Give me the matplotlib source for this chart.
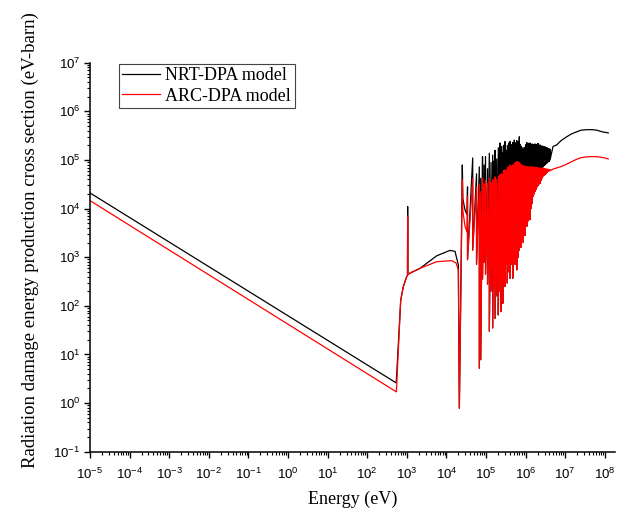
import numpy as np
import matplotlib
matplotlib.use("Agg")
import matplotlib.pyplot as plt
from matplotlib.ticker import LogLocator, FuncFormatter, NullFormatter

# ---- data (energy in eV, values in eV-barn) ----
# low-energy part (1/v region, first resonances)
nrt_low_E = [1e-5, 540, 701, 816, 994, 1.04e3, 1.05e3, 1.06e3, 1.2e3, 2.15e3,
             5.69e3, 1.23e4, 1.65e4, 2.0e4, 2.12e4, 2.52e4, 2.6e4, 2.95e4, 3.3e4]
nrt_low = [2.1e4, 2.6, 130, 250, 400, 420, 1.1e4, 440, 470, 590,
           1.07e3, 1.38e3, 1.32e3, 690, 0.78, 7.9e4, 1.6e4, 9.3e3, 7.5e3]

arc_low_E = [1e-5, 545, 701, 816, 994, 1.04e3, 1.05e3, 1.06e3, 1.2e3, 2.15e3,
             5.69e3, 1.36e4, 1.75e4, 2.0e4, 2.12e4, 2.52e4, 2.6e4, 2.95e4, 3.3e4]
arc_low = [1.46e4, 1.7, 130, 250, 400, 420, 7.0e3, 440, 470, 590,
           810, 850, 760, 550, 0.78, 3.9e4, 9.0e3, 4.3e3, 3.3e3]

# resolved resonance forest: energy, peaks and dips of each curve
res_E = [3.41e4, 4.61e4, 5.76e4, 6.77e4, 7.35e4, 8.16e4, 8.90e4, 9.71e4,
         1.091e5, 1.211e5, 1.337e5, 1.476e5, 1.592e5, 1.688e5, 1.863e5, 2.045e5,
         2.168e5, 2.258e5, 2.351e5, 2.463e5, 2.641e5, 2.767e5, 2.899e5, 3.019e5,
         3.2e5, 3.451e5, 3.594e5, 3.765e5, 4.037e5, 4.278e5, 4.535e5, 4.723e5,
         4.947e5, 5.183e5, 5.462e5, 5.722e5, 5.96e5, 6.243e5, 6.54e5, 6.93e5,
         7.302e5, 7.65e5, 7.968e5, 8.347e5, 8.746e5, 9.218e5, 9.657e5, 1.0235e6,
         1.066e6, 1.117e6, 1.17e6, 1.233e6, 1.292e6, 1.369e6, 1.451e6, 1.538e6,
         1.63e6, 1.728e6, 1.831e6, 1.941e6, 2.057e6, 2.18e6, 2.311e6, 2.449e6,
         2.595e6, 2.751e6, 2.915e6, 3.09e6, 3.275e6, 3.471e6, 3.679e6, 3.899e6,
         4.132e6]
nrt_peak = [2.8e4, 1.1e5, 5.2e4, 7.2e4, 4.2e4, 1.17e5, 7.9e4, 1.17e5,
            6.6e4, 1.38e5, 8.9e4, 1.26e5, 9.5e4, 1.58e5, 1.05e5, 1.78e5,
            1.26e5, 2.24e5, 1.32e5, 1.9e5, 1.41e5, 2.0e5, 1.66e5, 2.4e5,
            1.58e5, 2.0e5, 1.66e5, 2.24e5, 2.4e5, 1.78e5, 2.09e5, 2.29e5,
            1.9e5, 2.57e5, 2.0e5, 2.29e5, 2.51e5, 2.0e5, 2.4e5, 3.0e5,
            2.09e5, 1.9e5, 1.82e5, 1.66e5, 1.58e5, 1.82e5, 1.74e5, 2.09e5,
            2.29e5, 2.0e5, 2.19e5, 2.0e5, 2.24e5, 2.0e5, 2.14e5, 2.09e5,
            2.0e5, 2.14e5, 2.0e5, 2.09e5, 2.19e5, 2.0e5, 2.04e5, 1.9e5,
            1.95e5, 1.9e5, 1.86e5, 1.86e5, 1.82e5, 1.78e5, 1.74e5, 1.7e5,
            1.66e5]
nrt_dip = [890, 1.4e3, 710, 5.2, 7.8, 355, 790, 450,
           280, 30, 200, 35, 250, 55, 160, 65,
           220, 200, 76, 280, 112, 500, 355, 250,
           710, 295, 790, 500, 370, 710, 890, 370,
           1.0e3, 790, 710, 1.12e3, 550, 1.26e3, 1.0e3, 1.4e3,
           1.8e3, 1.6e3, 2.3e3, 2.8e3, 2.0e3, 3.2e3, 2.8e3, 5.0e3,
           4.3e3, 7.1e3, 5.6e3, 7.9e3, 5.9e3, 1.0e4, 1.26e4, 1.78e4,
           2.0e4, 2.24e4, 2.5e4, 2.8e4, 3.0e4, 3.2e4, 3.3e4, 3.8e4,
           5.5e4, 7.2e4, 7.6e4, 7.9e4, 8.3e4, 8.7e4, 9.1e4, 9.3e4,
           1.0e5]
arc_peak = [1.78e4, 4.2e4, 2.8e4, 3.2e4, 2.24e4, 4.2e4, 3.2e4, 3.8e4,
            3.3e4, 4.2e4, 3.5e4, 4.0e4, 3.8e4, 4.5e4, 4.0e4, 4.6e4,
            4.2e4, 5.0e4, 4.2e4, 5.2e4, 5.0e4, 6.0e4, 5.6e4, 6.3e4,
            6.0e4, 7.1e4, 6.6e4, 7.2e4, 7.9e4, 7.1e4, 7.6e4, 7.9e4,
            7.6e4, 8.3e4, 8.9e4, 8.7e4, 9.3e4, 8.9e4, 9.1e4, 8.9e4,
            8.3e4, 7.9e4, 7.9e4, 7.6e4, 7.6e4, 7.4e4, 7.4e4, 7.2e4,
            7.2e4, 7.2e4, 7.1e4, 7.2e4, 7.2e4, 7.1e4, 7.2e4, 7.2e4,
            7.1e4, 7.1e4, 6.9e4, 6.9e4, 6.9e4, 6.8e4, 6.8e4, 6.8e4,
            6.8e4, 6.8e4, 6.6e4, 6.6e4, 6.5e4, 6.5e4, 6.5e4, 6.3e4,
            6.3e4]
arc_dip = [890, 1.4e3, 710, 5.2, 7.8, 355, 790, 450,
           280, 30, 200, 35, 250, 55, 160, 65,
           220, 200, 76, 280, 112, 500, 355, 250,
           710, 295, 790, 500, 370, 710, 890, 370,
           1.0e3, 790, 710, 1.12e3, 550, 1.26e3, 1.0e3, 1.4e3,
           1.8e3, 1.6e3, 2.3e3, 2.8e3, 2.0e3, 3.2e3, 2.8e3, 5.0e3,
           4.3e3, 7.1e3, 5.6e3, 7.9e3, 5.9e3, 1.0e4, 1.26e4, 1.78e4,
           2.0e4, 2.24e4, 2.5e4, 2.8e4, 3.0e4, 3.2e4, 3.3e4, 3.8e4,
           4.2e4, 4.6e4, 4.8e4, 5.0e4, 5.2e4, 5.5e4, 5.8e4, 5.9e4,
           6.0e4]

# smooth high-energy part
nrt_high_E = [4.92e6, 6.1e6, 7.83e6, 1.09e7, 1.4e7, 1.95e7, 2.51e7, 3.49e7,
              4.75e7, 6.24e7, 8.5e7, 1.22e8]
nrt_high = [1.9e5, 2.04e5, 2.5e5, 3.0e5, 3.4e5, 3.8e5, 4.1e5, 4.2e5,
            4.2e5, 4.1e5, 3.8e5, 3.6e5]
arc_high_E = [4.92e6, 7.39e6, 9.9e6, 1.32e7, 1.77e7, 2.36e7, 3.16e7, 4.23e7,
              6.24e7, 9.0e7, 1.22e8]
arc_high = [6.5e4, 7.2e4, 7.9e4, 8.9e4, 1.0e5, 1.1e5, 1.15e5, 1.17e5,
            1.17e5, 1.12e5, 1.05e5]


def build_curve(low_E, low, peaks, dips, high_E, high):
    # resonances: line goes up to the peak and down to the dip at each energy
    zz_E = np.repeat(res_E, 2)
    zz_v = np.column_stack([peaks, dips]).ravel()
    E = np.concatenate([low_E, zz_E, high_E])
    v = np.concatenate([low, zz_v, high])
    return E, v


nrt_E, nrt_v = build_curve(nrt_low_E, nrt_low, nrt_peak, nrt_dip, nrt_high_E, nrt_high)
arc_E, arc_v = build_curve(arc_low_E, arc_low, arc_peak, arc_dip, arc_high_E, arc_high)

plt.rcParams["font.family"] = ["Liberation Serif", "DejaVu Serif"]
plt.rcParams["mathtext.default"] = "regular"

fig = plt.figure(figsize=(6.24, 5.15), dpi=100)
ax = fig.add_axes([0.1442, 0.1229, 0.8413, 0.7553])

ax.plot(nrt_E, nrt_v, color="black", lw=0.9, label="NRT-DPA model")
ax.plot(arc_E, arc_v, color="#ff0000", lw=0.9, label="ARC-DPA model")

ax.set_xscale("log")
ax.set_yscale("log")
ax.set_xlim(1e-5, 1.8e8)
ax.set_ylim(1e-1, 1e7)

ax.xaxis.set_major_locator(LogLocator(base=10, numticks=30))
ax.xaxis.set_minor_locator(LogLocator(base=10, subs=np.arange(2, 10), numticks=30))
ax.yaxis.set_major_locator(LogLocator(base=10, numticks=30))
ax.yaxis.set_minor_locator(LogLocator(base=10, subs=np.arange(2, 10), numticks=30))
fmt = FuncFormatter(lambda val, pos: r"$\mathregular{10^{%d}}$" % round(np.log10(val)))
ax.xaxis.set_major_formatter(fmt)
ax.yaxis.set_major_formatter(fmt)
ax.xaxis.set_minor_formatter(NullFormatter())
ax.yaxis.set_minor_formatter(NullFormatter())

ax.tick_params(which="major", direction="out", length=4, width=1, labelsize=9.5)
ax.tick_params(which="minor", direction="out", length=2.2, width=0.8)
ax.tick_params(axis="x", which="major", pad=7)
ax.tick_params(axis="y", which="major", pad=3)
for lab in ax.get_xticklabels() + ax.get_yticklabels():
    lab.set_fontfamily("Liberation Sans")

for side in ["top", "right"]:
    ax.spines[side].set_visible(False)
for side in ["left", "bottom"]:
    ax.spines[side].set_linewidth(1.1)

ax.set_xlabel("Energy (eV)", fontsize=13, labelpad=6)
ax.set_ylabel("Radiation damage energy production cross section (eV-barn)", fontsize=13.5)
ax.yaxis.set_label_coords(-0.097, 0.544)

leg = ax.legend(loc="upper left", bbox_to_anchor=(0.055, 0.998), borderaxespad=0,
                fancybox=False, framealpha=1, edgecolor="#444444", fontsize=13,
                handlelength=2.1, handletextpad=0.28, labelspacing=0.2,
                borderpad=0.2)
leg.get_frame().set_linewidth(0.8)

fig.savefig("out.png", dpi=100)
plt.close(fig)
